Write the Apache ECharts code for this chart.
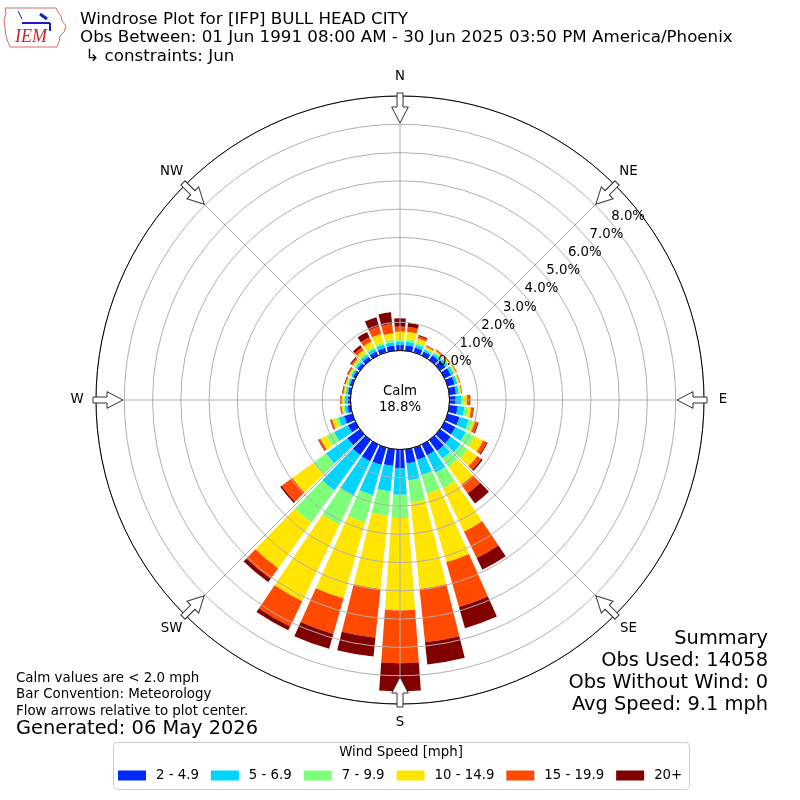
<!DOCTYPE html>
<html><head><meta charset="utf-8">
<script src="https://cdn.jsdelivr.net/npm/echarts@6/dist/echarts.min.js"></script>
<style>html,body{margin:0;padding:0;background:#fff}#c{width:800px;height:800px}</style>
</head><body><div id="c"></div>
<script>
// ---- data (percent of observations), directions every 10 degrees from N clockwise ----
const directions = ['0','10','20','30','40','50','60','70','80','90','100','110','120','130','140','150','160','170',
  '180','190','200','210','220','230','240','250','260','270','280','290','300','310','320','330','340','350'];
const speedBins = ['2 - 4.9','5 - 6.9','7 - 9.9','10 - 14.9','15 - 19.9','20+'];
const binColors = ['#0028ff','#00d4ff','#7dff7a','#ffe500','#ff4a00','#800000'];

const spd2to5 = [0.20,0.20,0.18,0.16,0.20,0.24,0.26,0.26,0.24,0.22,0.30,0.44,0.43,0.46,0.48,0.43,0.45,0.50,
                 0.67,0.59,0.64,0.66,0.65,0.55,0.30,0.31,0.12,0.10,0.10,0.10,0.10,0.12,0.14,0.16,0.17,0.19];
const spd5to7 = [0.11,0.12,0.10,0.07,0.08,0.09,0.10,0.10,0.10,0.20,0.24,0.34,0.41,0.44,0.32,0.68,0.56,0.60,
                 0.93,0.91,1.11,1.34,1.55,0.93,0.54,0.20,0.10,0.10,0.07,0.06,0.07,0.08,0.10,0.11,0.12,0.11];
const spd7to10 = [0.09,0.10,0.08,0.05,0.05,0.05,0.05,0.04,0.04,0.08,0.12,0.14,0.34,0.30,0.38,0.61,0.69,0.80,
                  0.82,0.86,1.00,1.15,1.40,0.55,0.30,0.11,0.05,0.05,0.04,0.04,0.04,0.05,0.06,0.07,0.08,0.10];
const spd10to15 = [0.27,0.26,0.16,0.07,0.07,0.05,0.05,0.04,0.05,0.12,0.12,0.09,0.34,0.42,0.77,1.71,2.52,3.07,
                   3.27,2.61,2.79,3.01,2.00,0.92,0.24,0.13,0.06,0.06,0.05,0.05,0.06,0.08,0.13,0.21,0.31,0.22];
const spd15to20 = [0.18,0.17,0.08,0.04,0.04,0.03,0.03,0.03,0.03,0.09,0.08,0.10,0.14,0.18,0.38,1.03,1.64,1.89,
                   1.87,1.73,1.31,0.99,0.45,0.47,0.07,0.05,0.04,0.05,0.03,0.03,0.04,0.06,0.12,0.17,0.27,0.33];
const spd20plus = [0.29,0.15,0.04,0.01,0.01,0.01,0.00,0.00,0.00,0.03,0.02,0.03,0.04,0.06,0.44,0.46,0.78,0.79,
                   0.99,0.67,0.55,0.15,0.15,0.06,0.02,0.02,0.01,0.01,0.02,0.02,0.02,0.04,0.09,0.20,0.34,0.42];
const binValues = [spd2to5, spd5to7, spd7to10, spd10to15, spd15to20, spd20plus];

const compassLabels = ['N','NE','E','SE','S','SW','W','NW'];
const radialMax = 9;          // percent at outer circle
const radialLabelMax = 8;     // last labelled ring
const calmPercent = '18.8%';

const titleLines = ['Windrose Plot for [IFP] BULL HEAD CITY',
  'Obs Between: 01 Jun 1991 08:00 AM - 30 Jun 2025 03:50 PM America/Phoenix',
  ' \u21b3 constraints: Jun'];
const noteLines = ['Calm values are < 2.0 mph','Bar Convention: Meteorology','Flow arrows relative to plot center.'];
const generatedText = 'Generated: 06 May 2026';
const summaryLines = ['Summary','Obs Used: 14058','Obs Without Wind: 0','Avg Speed: 9.1 mph'];

// ---- chart ----
const FONT = 'DejaVu Sans';
const chart = echarts.init(document.getElementById('c'), null, {renderer: 'canvas'});
const CX = 400, CY = 400, R_IN = 49.5, R_OUT = 304, R_LABEL = 323;

const graphics = [];
// title
titleLines.forEach((t, i) => graphics.push({type: 'text', left: 80, top: 11 + i * 18.5, z: 20,
  style: {text: t, font: '16.7px "' + FONT + '"', fill: '#000'}}));
// notes
noteLines.forEach((t, i) => graphics.push({type: 'text', left: 16, top: 672 + i * 16.5, z: 20,
  style: {text: t, font: '13.4px "' + FONT + '"', fill: '#000'}}));
graphics.push({type: 'text', left: 16, top: 719, z: 20,
  style: {text: generatedText, font: '19.4px "' + FONT + '"', fill: '#000'}});
summaryLines.forEach((t, i) => graphics.push({type: 'text', right: 32, top: 629 + i * 22, z: 20,
  style: {text: t, font: '19.4px "' + FONT + '"', fill: '#000', textAlign: 'right'}}));
// calm circle
graphics.push({type: 'circle', x: CX, y: CY, z: 10, shape: {cx: 0, cy: 0, r: R_IN},
  style: {fill: '#fff', stroke: '#000', lineWidth: 1}});
graphics.push({type: 'text', x: CX, y: CY - 8, z: 11,
  style: {text: 'Calm', font: '13.3px "' + FONT + '"', fill: '#000', textAlign: 'center', textVerticalAlign: 'middle'}});
graphics.push({type: 'text', x: CX, y: CY + 8, z: 11,
  style: {text: calmPercent, font: '13.3px "' + FONT + '"', fill: '#000', textAlign: 'center', textVerticalAlign: 'middle'}});
// flow arrows and compass labels at the eight compass points
compassLabels.forEach((lab, i) => {
  const ang = i * 45;
  const rad = ang * Math.PI / 180;
  graphics.push({type: 'polygon', x: CX, y: CY, rotation: -rad, z: 12,
    shape: {points: [[-3, -307], [3, -307], [3, -293], [8.3, -293], [0, -277], [-8.3, -293], [-3, -293]]},
    style: {fill: '#fff', stroke: '#333', lineWidth: 1}});
  graphics.push({type: 'text', x: CX + R_LABEL * Math.sin(rad), y: CY - R_LABEL * Math.cos(rad), z: 12,
    style: {text: lab, font: '13.3px "' + FONT + '"', fill: '#000', textAlign: 'center', textVerticalAlign: 'middle'}});
});
// legend frame + title
graphics.push({type: 'rect', left: 113, top: 742, z: 0,
  shape: {x: 0, y: 0, width: 576, height: 47, r: 4}, style: {fill: '#fff', stroke: '#cccccc', lineWidth: 1}});
graphics.push({type: 'text', x: 401, y: 753, z: 1,
  style: {text: 'Wind Speed [mph]', font: '13.3px "' + FONT + '"', fill: '#000', textAlign: 'center', textVerticalAlign: 'middle'}});
// IEM logo (simple)
graphics.push({type: 'polyline', z: 1, shape: {points: [[5,8],[56,8],[58,12],[61,16],[62,21],[66,26],[64,32],[60,36],[59,42],[57,47],[10,47],[8,42],[6,36],[5,28],[4,20],[6,14],[5,8]]},
  style: {stroke: '#e06a6a', lineWidth: 1, fill: null}});
graphics.push({type: 'line', z: 1, shape: {x1: 22, y1: 23, x2: 50, y2: 23}, style: {stroke: '#1a1acc', lineWidth: 2}});
graphics.push({type: 'line', z: 1, shape: {x1: 40, y1: 14, x2: 47, y2: 19}, style: {stroke: '#1a1acc', lineWidth: 3}});
graphics.push({type: 'line', z: 1, shape: {x1: 18, y1: 11, x2: 22, y2: 19}, style: {stroke: '#1a1acc', lineWidth: 1}});
graphics.push({type: 'line', z: 1, shape: {x1: 50, y1: 23, x2: 50, y2: 31}, style: {stroke: '#1a1acc', lineWidth: 2}});
graphics.push({type: 'text', left: 15, top: 28, z: 1,
  style: {text: 'IEM', font: 'italic 18px "Liberation Serif"', fill: '#c8262c'}});

const option = {
  animation: false,
  backgroundColor: '#fff',
  textStyle: {fontFamily: FONT},
  polar: [
    {center: [CX, CY], radius: [R_IN, R_OUT]},
    {center: [CX, CY], radius: [R_IN, R_OUT]},
    {center: [CX, CY], radius: [R_IN, R_OUT]}
  ],
  angleAxis: [
    {polarIndex: 0, type: 'category', data: directions, startAngle: 95, clockwise: true, boundaryGap: true,
      axisLine: {show: false}, axisTick: {show: false}, axisLabel: {show: false}, splitLine: {show: false}},
    {polarIndex: 1, type: 'value', min: 0, max: 360, interval: 45, startAngle: 90, clockwise: true, z: 6,
      axisLine: {show: true, lineStyle: {color: '#000', width: 1}},
      axisTick: {show: false},
      axisLabel: {show: false},
      splitLine: {show: true, lineStyle: {color: '#b0b0b0', width: 1}}},
    {polarIndex: 2, type: 'value', min: 0, max: 360, startAngle: 40, clockwise: true,
      axisLine: {show: false}, axisTick: {show: false}, axisLabel: {show: false}, splitLine: {show: false}}
  ],
  radiusAxis: [
    {polarIndex: 0, type: 'value', min: 0, max: radialMax,
      axisLine: {show: false}, axisTick: {show: false}, axisLabel: {show: false}, splitLine: {show: false}},
    {polarIndex: 1, type: 'value', min: 0, max: radialMax,
      axisLine: {show: false}, axisTick: {show: false}, axisLabel: {show: false}, splitLine: {show: false}},
    {polarIndex: 2, type: 'value', min: 0, max: radialMax, interval: 1, z: 5,
      axisLine: {show: false}, axisTick: {show: false},
      axisLabel: {show: true, margin: 0, align: 'left', verticalAlign: 'bottom', color: '#000', fontSize: 13.3, fontFamily: FONT,
        formatter: v => v > radialLabelMax ? '' : v.toFixed(1) + '%'},
      splitLine: {show: true, lineStyle: {color: '#b0b0b0', width: 1}}}
  ],
  legend: {
    show: true, orient: 'horizontal', left: 118, top: 769, padding: 0,
    itemWidth: 28, itemHeight: 10, itemGap: 12, icon: 'rect',
    data: speedBins,
    textStyle: {fontSize: 13.3, fontFamily: FONT, color: '#000', padding: [0, 0, 0, 5]}
  },
  graphic: graphics,
  series: speedBins.map((name, i) => ({
    name: name, type: 'bar', coordinateSystem: 'polar', polarIndex: 0, stack: 'wind',
    barWidth: '82%', data: binValues[i], z: 2,
    itemStyle: {color: binColors[i]}
  }))
};
chart.setOption(option);
</script>
</body></html>
